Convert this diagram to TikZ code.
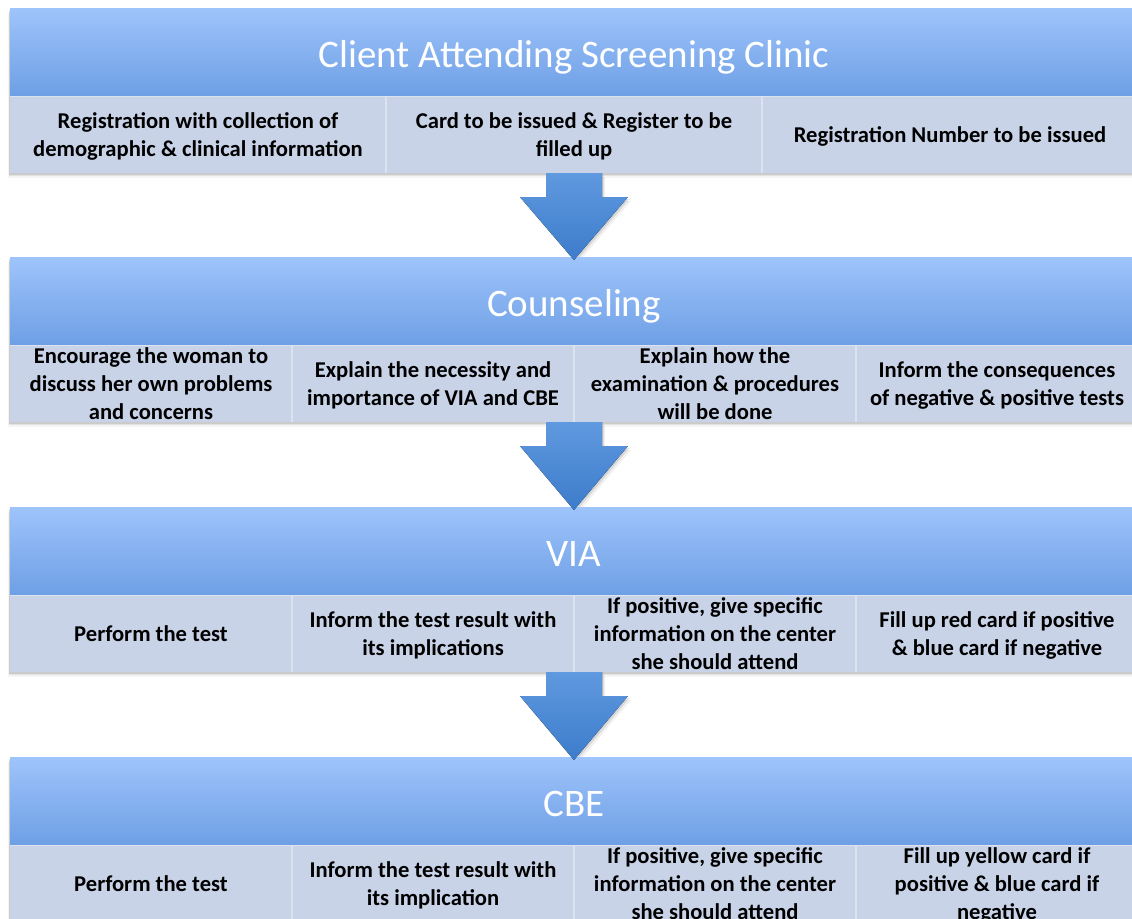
\documentclass[tikz,border=0pt]{standalone}
\usepackage{fontspec}
\setmainfont{Carlito}
\usetikzlibrary{calc}
\pgfdeclarelayer{bg}
\pgfsetlayers{bg,main}

\definecolor{headtop}{HTML}{9EC4FB}
\definecolor{headbot}{HTML}{6E9FE5}
\definecolor{cellfill}{HTML}{C8D3E8}
\definecolor{cellline}{HTML}{DCE3F0}
\definecolor{arrtop}{HTML}{5F99DF}
\definecolor{arrbot}{HTML}{3D7CCB}

% block arrow outline: #1 top centre of the shaft, #2 point the tip reaches,
% #3/#4 extra offset (used for the shadow copy)
\newcommand\arrowoutline[4]{%
  ($(#1)+(#3-28,#4)$) -- ($(#1)+(#3+28,#4)$) -- ($(#1)+(#3+28,#4+24)$) --
  ($(#1)+(#3+54,#4+24)$) -- ($(#2)+(#3,#4+3)$) -- ($(#1)+(#3-54,#4+24)$) --
  ($(#1)+(#3-28,#4+24)$) -- cycle}

\begin{document}
\begin{tikzpicture}[x=1pt,y=-1pt,
  head/.style={rectangle, anchor=north west, minimum width=1128pt,
    minimum height=88pt, inner sep=0pt, outer sep=0pt,
    top color=headtop, bottom color=headbot, text=white,
    text height=31pt, text depth=0pt,
    font=\fontsize{39}{46}\selectfont},
  cell/.style={rectangle, anchor=north west, minimum height=77pt,
    inner sep=0pt, outer sep=0pt, fill=cellfill, align=center, text=black,
    text depth=0pt,
    font=\bfseries\fontsize{22.6}{28}\selectfont},
  wide/.style={cell, minimum width=376pt},
  narrow/.style={cell, minimum width=282pt},
  divider/.style={draw=cellline, line width=1.2pt},
  blockarrow/.style={top color=arrtop, bottom color=arrbot, draw=none},
  softshadow/.style={fill=black, opacity=#1},
]
\useasboundingbox (0,0) rectangle (1132,918);
\clip (0,0) rectangle (1132,918);

% ---------- stage 1 ----------
\node[head] (h1) at (10,8) {Client Attending Screening Clinic};
\node[wide] (a1) at (h1.south west) {Registration with collection of\\demographic \& clinical information};
\node[wide] (a2) at (a1.north east) {Card to be issued \& Register to be\\filled up};
\node[wide] (a3) at (a2.north east) {Registration Number to be issued};

% ---------- stage 2 ----------
\node[head] (h2) at (10,257) {Counseling};
\node[narrow] (b1) at (h2.south west) {Encourage the woman to\\discuss her own problems\\and concerns};
\node[narrow] (b2) at (b1.north east) {Explain the necessity and\\importance of VIA and CBE};
\node[narrow] (b3) at (b2.north east) {Explain how the\\examination \& procedures\\will be done};
\node[narrow] (b4) at (b3.north east) {Inform the consequences\\of negative \& positive tests};

% ---------- stage 3 ----------
\node[head] (h3) at (10,507) {VIA};
\node[narrow] (c1) at (h3.south west) {Perform the test};
\node[narrow] (c2) at (c1.north east) {Inform the test result with\\its implications};
\node[narrow] (c3) at (c2.north east) {If positive, give specific\\information on the center\\she should attend};
\node[narrow] (c4) at (c3.north east) {Fill up red card if positive\\\& blue card if negative};

% ---------- stage 4 ----------
\node[head] (h4) at (10,757) {CBE};
\node[narrow] (d1) at (h4.south west) {Perform the test};
\node[narrow] (d2) at (d1.north east) {Inform the test result with\\its implication};
\node[narrow] (d3) at (d2.north east) {If positive, give specific\\information on the center\\she should attend};
\node[narrow] (d4) at (d3.north east) {Fill up yellow card if\\positive \& blue card if\\negative};

% column separators
\foreach \c in {a1,a2,b1,b2,b3,c1,c2,c3,d1,d2,d3}
  \draw[divider] (\c.north east) -- (\c.south east);
\foreach \r in {a1,b1,c1,d1}
  \draw[cellline, line width=0.6pt] (\r.north west) -- (\r.north west -| h1.east);

% arrows between the stages
\fill[blockarrow] \arrowoutline{a2.south}{h2.north}{0}{0};
\fill[blockarrow] \arrowoutline{b2.south east}{h3.north}{0}{0};
\fill[blockarrow] \arrowoutline{c2.south east}{h4.north}{0}{0};

% soft shadows and page background
\begin{pgfonlayer}{bg}
  \fill[white] (0,0) rectangle (1132,918);
  \clip (0,0) rectangle (1132,918);
  \foreach \h/\e in {h1/a3,h2/b4,h3/c4,h4/d4}{
    \fill[softshadow=.10] ($(\h.north west)+(-1,1.5)$) rectangle ($(\e.south east)+(1,1.5)$);
    \fill[softshadow=.07] ($(\h.north west)+(-1.5,3)$) rectangle ($(\e.south east)+(1.5,3)$);
    \fill[softshadow=.04] ($(\h.north west)+(-2,5)$) rectangle ($(\e.south east)+(2,5)$);
  }
  \foreach \s/\t in {a2.south/h2.north,b2.south east/h3.north,c2.south east/h4.north}{
    \fill[softshadow=.10] \arrowoutline{\s}{\t}{1.5}{2};
    \fill[softshadow=.06] \arrowoutline{\s}{\t}{3}{4};
  }
\end{pgfonlayer}
\end{tikzpicture}
\end{document}
